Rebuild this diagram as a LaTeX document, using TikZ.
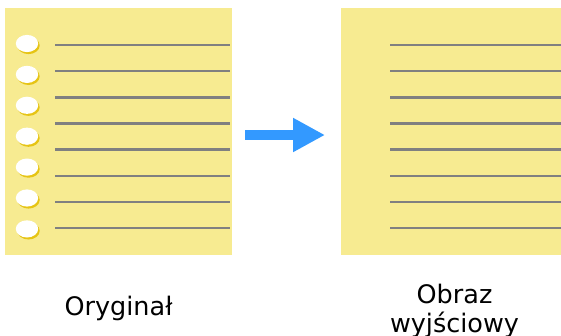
\documentclass[tikz,border=0pt]{standalone}
\usepackage{fontspec}
\setmainfont{DejaVu Sans}
\usetikzlibrary{arrows.meta}
\definecolor{notepaper}{RGB}{247,235,145}
\definecolor{ruling}{RGB}{128,128,128}
\definecolor{holeshadow}{RGB}{230,196,20}
\definecolor{flowblue}{RGB}{51,153,255}
\begin{document}
\begin{tikzpicture}[x=1pt,y=-1pt,
  page/.style={fill=notepaper,draw=none,minimum width=227pt,minimum height=247pt,inner sep=0pt},
  rule/.style={ruling,line width=2.4pt},
  caption/.style={font=\fontsize{25.5}{29.5}\selectfont,align=center,inner sep=0pt}]
\useasboundingbox (0,0) rectangle (561,335);
\clip (0,0) rectangle (561,335);
\node[page] (orig) at (118.5,131.5) {};
\node[page] (out) at (454.5,131.5) {};
\foreach \i in {0,...,7} {
  \draw[rule] (55,45+26.15*\i) -- (229.5,45+26.15*\i);
  \draw[rule] (390,45+26.15*\i) -- (561,45+26.15*\i);
}
\foreach \i in {0,...,6} {
  \fill[holeshadow] (28.5,45.5+30.9*\i) ellipse [x radius=11.2pt,y radius=8.6pt];
  \fill[white] (27,43.5+30.9*\i) ellipse [x radius=11.2pt,y radius=8.6pt];
}
\coordinate (arrowstart) at (245,135);
\coordinate (arrowtip) at (325,135);
\draw[flowblue,line width=10pt,-{Triangle[length=32pt,width=32pt]}] (arrowstart) -- (arrowtip);
\node[caption,anchor=base] (origlabel) at (118.5,315) {Oryginał};
\node[caption,anchor=base] (outlabel) at (454.5,332.5) {Obraz\\wyjściowy};
\end{tikzpicture}
\end{document}
